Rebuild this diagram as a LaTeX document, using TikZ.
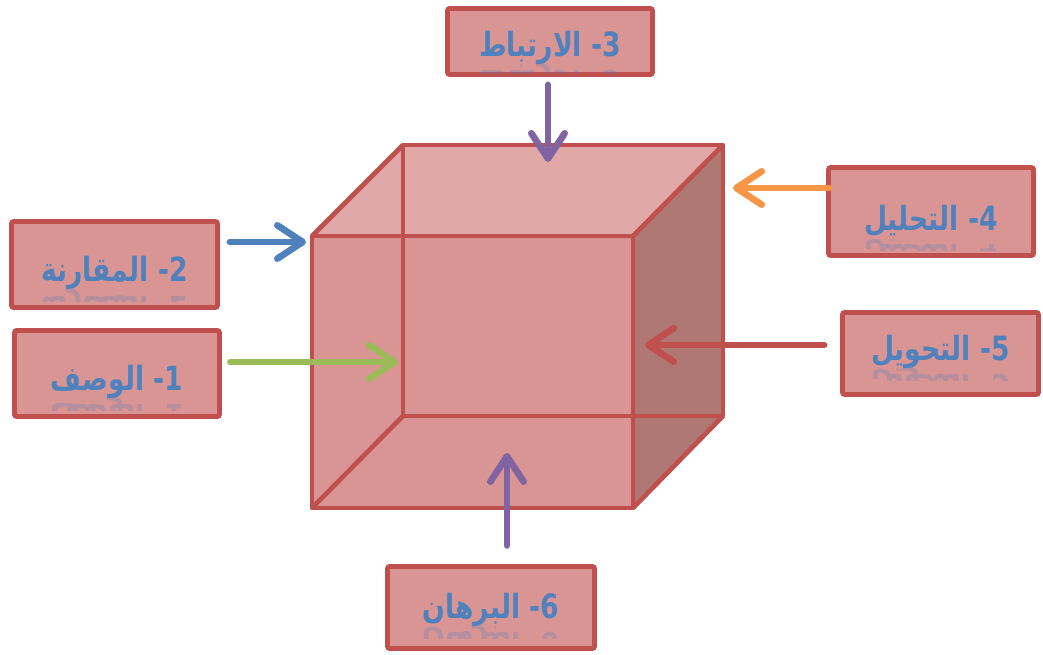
\documentclass[tikz,border=0pt]{standalone}
\usepackage{fontspec}
\usepackage{graphicx}
\newfontfamily\arabicfont[Script=Arabic]{DejaVu Sans}
\TeXXeTstate=1
\usetikzlibrary{arrows.meta}
\definecolor{boxfill}{HTML}{D99594}
\definecolor{edgecol}{HTML}{C0504D}
\definecolor{topface}{HTML}{E0A9A8}
\definecolor{sideface}{HTML}{AF7873}
\definecolor{txtblue}{HTML}{4F81BD}
\definecolor{apurple}{HTML}{8064A2}
\definecolor{ablue}{HTML}{4F81BD}
\definecolor{agreen}{HTML}{9BBB59}
\definecolor{aorange}{HTML}{F79646}
\definecolor{ared}{HTML}{C0504D}
\newcommand{\lbltext}[2]{\scalebox{0.8}[1]{\beginR #1\kern0pt-\kern0pt\ #2\endR}}
% faded mirror image of a label, mirrored about a line 5pt below its baseline
\newcommand{\reflect}[3]{%
  \begin{scope}
    \clip ([shift={(2.5pt,2.5pt)}]#1.south west) rectangle ([shift={(-2.5pt,-2.5pt)}]#1.north east);
    \clip ([yshift=-5.5pt]#1.base -| #1.west) rectangle ([yshift=-15pt]#1.base -| #1.east);
    \node[reflected, anchor=base] (r#1) at ([yshift=-11pt]#1.base)
      {\scalebox{1}[-1]{\lbltext{#2}{#3}}};
  \end{scope}}
\begin{document}
\begin{tikzpicture}[x=0.75pt,y=-0.75pt,
  labelfont/.style={font=\arabicfont\bfseries\fontsize{25}{29}\selectfont},
  labelbox/.style={draw=edgecol, fill=boxfill, line width=3.5pt, rounded corners=1.5pt,
    inner sep=0pt, text=txtblue, labelfont, text height=22pt+#1, text depth=22pt-#1},
  reflected/.style={inner sep=0pt, text=txtblue, text opacity=0.26, labelfont},
  link/.style={line width=5pt, line cap=round,
    -{Straight Barb[length=19pt,width=25pt,round]}},
  cubeedge/.style={draw=edgecol, line width=3.5pt, line join=round}
]
\useasboundingbox (0,0) rectangle (1043,655);

% cube faces
\fill[boxfill] (312,236) -- (403,145) -- (723,145) -- (723,416) -- (633,508) -- (312,508) -- cycle;
\fill[topface] (312,236) -- (403,145) -- (723,145) -- (633,236) -- cycle;
\fill[sideface] (633,236) -- (723,145) -- (723,416) -- (633,508) -- cycle;
% cube edges
\draw[cubeedge] (403,145) rectangle (723,416);
\draw[cubeedge] (312,236) -- (403,145);
\draw[cubeedge] (633,236) -- (723,145);
\draw[cubeedge] (633,508) -- (723,416);
\draw[cubeedge] (312,508) -- (403,416);
\draw[cubeedge] (312,236) rectangle (633,508);

% label boxes
\node[labelbox=10.9pt, minimum width=153.75pt, minimum height=49.5pt] (b3) at (550,41.5)
  {\lbltext{3}{الارتباط}};
\node[labelbox=13.1pt, minimum width=154.5pt, minimum height=64.5pt] (b2) at (114.5,264.5)
  {\lbltext{2}{المقارنة}};
\node[labelbox=12.4pt, minimum width=153.75pt, minimum height=64.5pt] (b1) at (117,373.5)
  {\lbltext{1}{الوصف}};
\node[labelbox=13.9pt, minimum width=153.75pt, minimum height=66pt] (b4) at (931,211.5)
  {\lbltext{4}{التحليل}};
\node[labelbox=4.9pt, minimum width=147pt, minimum height=61.5pt] (b5) at (940.5,353.5)
  {\lbltext{5}{التحويل}};
\node[labelbox=7.9pt, minimum width=155.25pt, minimum height=61.5pt] (b6) at (491,607.5)
  {\lbltext{6}{البرهان}};

% faded reflections of the labels
\reflect{b3}{3}{الارتباط}
\reflect{b2}{2}{المقارنة}
\reflect{b1}{1}{الوصف}
\reflect{b4}{4}{التحليل}
\reflect{b5}{5}{التحويل}
\reflect{b6}{6}{البرهان}

% arrow targets
\coordinate (t3) at (548,162);
\coordinate (t2) at (306,242);
\coordinate (t1) at (398,362);
\coordinate (t4) at (733,188);
\coordinate (t5) at (645,345);
\coordinate (t6) at (507,453);

% arrows
\draw[link, draw=apurple, shorten <=6pt] (t3 |- b3.south) -- (t3);
\draw[link, draw=ablue, shorten <=7.5pt] (b2.east |- t2) -- (t2);
\draw[link, draw=agreen, shorten <=6.4pt] (b1.east |- t1) -- (t1);
\draw[link, draw=aorange, shorten <=-2pt] (b4.west |- t4) -- (t4);
\draw[link, draw=ared, shorten <=12pt] (b5.west |- t5) -- (t5);
\draw[link, draw=apurple, shorten <=14pt] (t6 |- b6.north) -- (t6);
\end{tikzpicture}
\end{document}
